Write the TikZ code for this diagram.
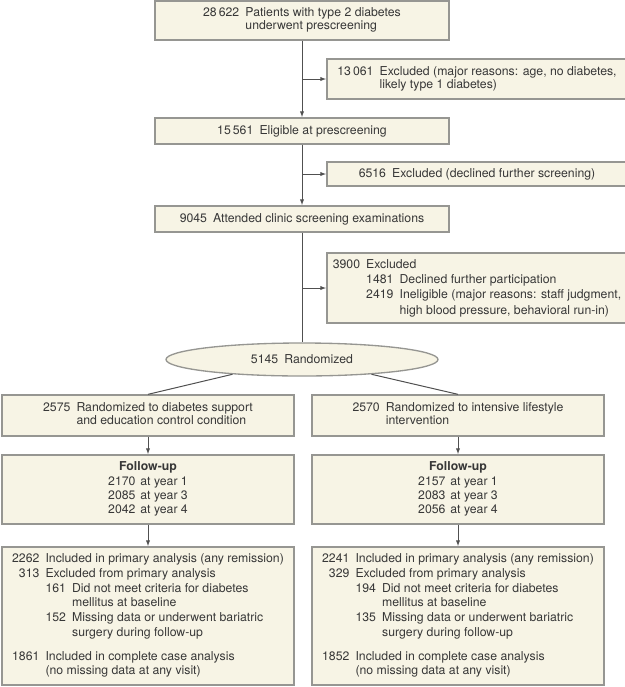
\documentclass[tikz,border=0pt]{standalone}
\usepackage{fontspec}
\setmainfont{TeX Gyre Heros}
\usetikzlibrary{arrows.meta,shapes.geometric}

\definecolor{boxfill}{RGB}{247,244,229}
\definecolor{boxline}{RGB}{150,150,146}
\definecolor{inktext}{RGB}{55,55,55}
\definecolor{wire}{RGB}{80,80,80}

\tikzset{
  flowbox/.style={draw=boxline, fill=boxfill, line width=1pt, text=inktext,
    inner sep=0pt, align=center, font=\fontsize{9.2}{10}\selectfont},
  widebox/.style={flowbox, minimum width=220.5pt},
  sidebox/.style={flowbox, minimum width=225pt},
  armbox/.style={flowbox, minimum width=219pt},
  arrowline/.style={draw=wire, line width=0.75pt, -{Latex[length=4.5pt,width=3.2pt]}},
  plainline/.style={draw=wire, line width=0.75pt}
}

\begin{document}
\begin{tikzpicture}[x=0.75pt,y=0.75pt,yscale=-1,xscale=1]
\useasboundingbox (0,0) rectangle (625,687);

%Screening stage
\node [widebox, minimum height=29.25pt] (prescreen) at (302,20.5)
  {\begin{tabular}{@{}r@{\hspace{.5em}}l@{}}28\,622 & Patients with type 2 diabetes\\ & underwent prescreening\end{tabular}};
\node [sidebox, minimum height=30pt] (exclA) at (477,79)
  {\begin{tabular}{@{}r@{\hspace{.5em}}l@{}}13\,061 & Excluded (major reasons: age, no diabetes,\\ & likely type 1 diabetes)\end{tabular}};
\node [widebox, minimum height=19.5pt] (eligible) at (302,131) {15\,561\hspace{.5em}Eligible at prescreening};
\node [sidebox, minimum height=18pt] (exclB) at (477,174) {6516\hspace{.5em}Excluded (declined further screening)};
\node [widebox, minimum height=19.5pt] (clinic) at (302,219) {9045\hspace{.5em}Attended clinic screening examinations};
\node [sidebox, minimum height=52.5pt, font=\fontsize{9.2}{11.5}\selectfont] (exclC) at (477,288)
  {\begin{tabular}{@{}r@{\hspace{.5em}}l@{\hspace{.5em}}l@{}}
   3900 & \multicolumn{2}{@{}l@{}}{Excluded}\\
   & 1481 & Declined further participation\\
   & 2419 & Ineligible (major reasons: staff judgment,\\
   & & high blood pressure, behavioral run-in)\end{tabular}};

%Randomization
\node [flowbox, ellipse, minimum width=204pt, minimum height=24.75pt] (rand) at (302,359.5) {5145\hspace{.5em}Randomized};
\node [armbox, minimum height=30.75pt] (armL) at (148,415.5)
  {\begin{tabular}{@{}r@{\hspace{.5em}}l@{}}2575 & Randomized to diabetes support\\ & and education control condition\end{tabular}};
\node [armbox, minimum height=30.75pt] (armR) at (458,415.5)
  {\begin{tabular}{@{}r@{\hspace{.5em}}l@{}}2570 & Randomized to intensive lifestyle\\ & intervention\end{tabular}};

%Follow-up
\node [armbox, minimum height=51.75pt, font=\fontsize{9.2}{10.5}\selectfont] (followL) at (148,489.5)
  {{\bfseries Follow-up}\\[1pt]
   \begin{tabular}{@{}r@{\hspace{.4em}}l@{}}2170 & at year 1\\ 2085 & at year 3\\ 2042 & at year 4\end{tabular}};
\node [armbox, minimum height=51.75pt, font=\fontsize{9.2}{10.5}\selectfont] (followR) at (458,489.5)
  {{\bfseries Follow-up}\\[1pt]
   \begin{tabular}{@{}r@{\hspace{.4em}}l@{}}2157 & at year 1\\ 2083 & at year 3\\ 2056 & at year 4\end{tabular}};

%Analysis
\node [armbox, minimum height=103.5pt, font=\fontsize{9.2}{11}\selectfont] (analysisL) at (148,616)
  {\begin{tabular}{@{}r@{\hspace{.5em}}l@{\hspace{.5em}}l@{}}
   2262 & \multicolumn{2}{@{}l@{}}{Included in primary analysis (any remission)}\\
   313 & \multicolumn{2}{@{}l@{}}{Excluded from primary analysis}\\
   & 161 & Did not meet criteria for diabetes\\
   & & mellitus at baseline\\
   & 152 & Missing data or underwent bariatric\\
   & & surgery during follow-up\\[7pt]
   1861 & \multicolumn{2}{@{}l@{}}{Included in complete case analysis}\\
   & \multicolumn{2}{@{}l@{}}{(no missing data at any visit)}\end{tabular}};
\node [armbox, minimum height=103.5pt, font=\fontsize{9.2}{11}\selectfont] (analysisR) at (458,616)
  {\begin{tabular}{@{}r@{\hspace{.5em}}l@{\hspace{.5em}}l@{}}
   2241 & \multicolumn{2}{@{}l@{}}{Included in primary analysis (any remission)}\\
   329 & \multicolumn{2}{@{}l@{}}{Excluded from primary analysis}\\
   & 194 & Did not meet criteria for diabetes\\
   & & mellitus at baseline\\
   & 135 & Missing data or underwent bariatric\\
   & & surgery during follow-up\\[7pt]
   1852 & \multicolumn{2}{@{}l@{}}{Included in complete case analysis}\\
   & \multicolumn{2}{@{}l@{}}{(no missing data at any visit)}\end{tabular}};

%Connectors
\draw [arrowline] (prescreen.south) -- (eligible.north);
\draw [arrowline] (prescreen.south |- exclA.west) -- (exclA.west);
\draw [arrowline] (eligible.south) -- (clinic.north);
\draw [arrowline] (eligible.south |- exclB.west) -- (exclB.west);
\draw [plainline] (clinic.south) -- (rand.north);
\draw [arrowline] (clinic.south |- exclC.west) -- (exclC.west);
\draw [plainline] (rand.192) -- (armL.north);
\draw [plainline] (rand.-12) -- (armR.north);
\draw [arrowline] (armL.south) -- (followL.north);
\draw [arrowline] (followL.south) -- (analysisL.north);
\draw [arrowline] (armR.south) -- (followR.north);
\draw [arrowline] (followR.south) -- (analysisR.north);
\end{tikzpicture}
\end{document}
